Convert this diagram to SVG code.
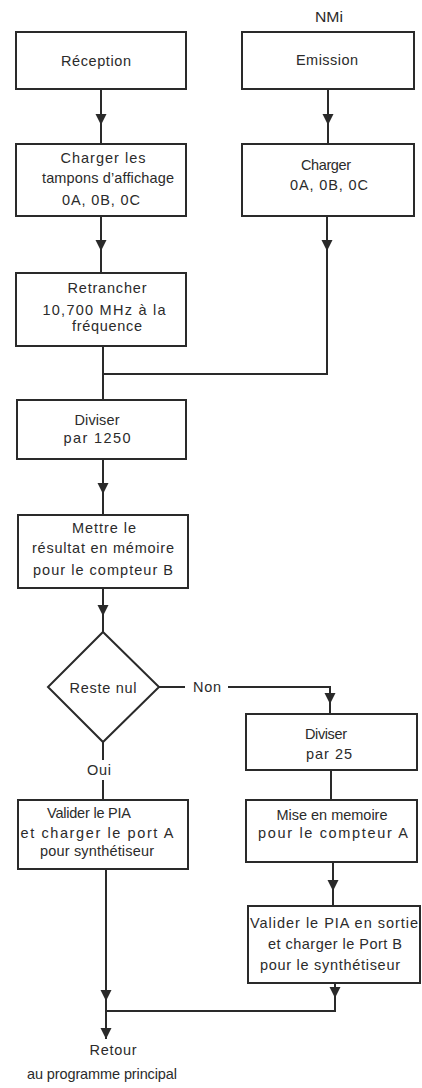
<svg xmlns="http://www.w3.org/2000/svg" width="422" height="1088" viewBox="0 0 422 1088">
  <style>
    .box { fill: #ffffff; stroke: #2a2a2a; stroke-width: 2; }
    .wire { fill: none; stroke: #2a2a2a; stroke-width: 2; }
    .arr { fill: none; stroke: #2a2a2a; stroke-width: 2; marker-end: url(#tri); }
    text { font-family: "Liberation Sans", Arial, sans-serif; font-size: 14.5px; fill: #2b2b2b; text-anchor: middle; }
  </style>
  <defs>
    <marker id="tri" viewBox="0 0 10 10" refX="10" refY="5" markerWidth="11" markerHeight="12" markerUnits="userSpaceOnUse" orient="auto">
      <path d="M0,0 L10,5 L0,10 z" fill="#2a2a2a"/>
    </marker>
  </defs>
  <rect width="422" height="1088" fill="#ffffff"/>

  <!-- connectors -->
  <g id="connectors">
    <line class="arr" x1="101" y1="89" x2="101" y2="125"/>
    <line class="wire" x1="101" y1="124" x2="101" y2="144"/>
    <line class="arr" x1="328" y1="89" x2="328" y2="125"/>
    <line class="wire" x1="328" y1="124" x2="328" y2="144"/>

    <line class="arr" x1="101" y1="216" x2="101" y2="251"/>
    <line class="wire" x1="101" y1="250" x2="101" y2="273"/>
    <line class="arr" x1="327" y1="216" x2="327" y2="251"/>
    <polyline class="wire" points="327,250 327,374 103,374"/>
    <line class="wire" x1="103" y1="346" x2="103" y2="400"/>

    <line class="arr" x1="103" y1="459" x2="103" y2="494"/>
    <line class="wire" x1="103" y1="493" x2="103" y2="515"/>
    <line class="arr" x1="103" y1="588" x2="103" y2="616"/>
    <line class="wire" x1="103" y1="615" x2="103" y2="632"/>

    <line class="wire" x1="159" y1="687" x2="185" y2="687"/>
    <polyline class="arr" points="228,687 330,687 330,704"/>
    <line class="wire" x1="330" y1="703" x2="330" y2="714"/>

    <line class="wire" x1="103" y1="742" x2="103" y2="760"/>
    <line class="wire" x1="103" y1="780" x2="103" y2="800"/>

    <line class="wire" x1="331" y1="770" x2="331" y2="800"/>
    <line class="arr" x1="333" y1="862" x2="333" y2="891"/>
    <line class="wire" x1="333" y1="890" x2="333" y2="906"/>

    <line class="arr" x1="106" y1="869" x2="106" y2="1001"/>
    <line class="arr" x1="335" y1="983" x2="335" y2="998"/>
    <polyline class="wire" points="335,997 335,1011 106,1011 106,1000"/>
    <line class="arr" x1="106" y1="1011" x2="106" y2="1039"/>
  </g>

  <text x="329" y="22" textLength="28" lengthAdjust="spacingAndGlyphs">NMi</text>

  <g id="reception">
    <rect class="box" x="16" y="32" width="170" height="57"/>
    <text x="96" y="66" textLength="70">Réception</text>
  </g>
  <g id="emission">
    <rect class="box" x="242" y="32" width="172" height="57"/>
    <text x="327" y="65" textLength="62">Emission</text>
  </g>
  <g id="charger-tampons">
    <rect class="box" x="16" y="144" width="170" height="72"/>
    <text x="103" y="163" textLength="85">Charger les</text>
    <text x="108" y="183" textLength="132">tampons d’affichage</text>
    <text x="101" y="205" textLength="78">0A, 0B, 0C</text>
  </g>
  <g id="charger">
    <rect class="box" x="242" y="144" width="172" height="72"/>
    <text x="326" y="170" textLength="50">Charger</text>
    <text x="329" y="190" textLength="78">0A, 0B, 0C</text>
  </g>
  <g id="retrancher">
    <rect class="box" x="16" y="273" width="170" height="73"/>
    <text x="107" y="293" textLength="79">Retrancher</text>
    <text x="104" y="315" textLength="123">10,700 MHz à la</text>
    <text x="107" y="331" textLength="70">fréquence</text>
  </g>
  <g id="diviser-1250">
    <rect class="box" x="17" y="400" width="169" height="59"/>
    <text x="97" y="425" textLength="45">Diviser</text>
    <text x="97" y="443" textLength="67">par 1250</text>
  </g>
  <g id="mettre">
    <rect class="box" x="18" y="515" width="170" height="73"/>
    <text x="104" y="533" textLength="64">Mettre le</text>
    <text x="103" y="553" textLength="142">résultat en mémoire</text>
    <text x="103" y="575" textLength="140">pour le compteur B</text>
  </g>
  <g id="reste-nul">
    <polygon class="box" points="103,632 159,687 103,742 48,687"/>
    <text x="103" y="693" textLength="67">Reste nul</text>
  </g>
  <text x="207" y="692" textLength="28">Non</text>
  <text x="99" y="775" textLength="24">Oui</text>
  <g id="diviser-25">
    <rect class="box" x="246" y="714" width="171" height="56"/>
    <text x="326" y="739" textLength="42">Diviser</text>
    <text x="329" y="759" textLength="46">par 25</text>
  </g>
  <g id="valider-a">
    <rect class="box" x="18" y="800" width="170" height="69"/>
    <text x="89" y="818" textLength="84">Valider le PIA</text>
    <text x="97" y="838" textLength="153">et charger le port A</text>
    <text x="97" y="856" textLength="114">pour synthétiseur</text>
  </g>
  <g id="mise-en-memoire">
    <rect class="box" x="246" y="800" width="171" height="62"/>
    <text x="332" y="820" textLength="111">Mise en memoire</text>
    <text x="333" y="838" textLength="150">pour le compteur A</text>
  </g>
  <g id="valider-b">
    <rect class="box" x="248" y="906" width="172" height="77"/>
    <text x="334" y="928" textLength="168">Valider le PIA en sortie</text>
    <text x="335" y="949" textLength="134">et charger le Port B</text>
    <text x="330" y="970" textLength="140">pour le synthétiseur</text>
  </g>
  <g id="retour">
    <text x="113" y="1055" textLength="47">Retour</text>
    <text x="102" y="1079" textLength="150">au programme principal</text>
  </g>
</svg>
